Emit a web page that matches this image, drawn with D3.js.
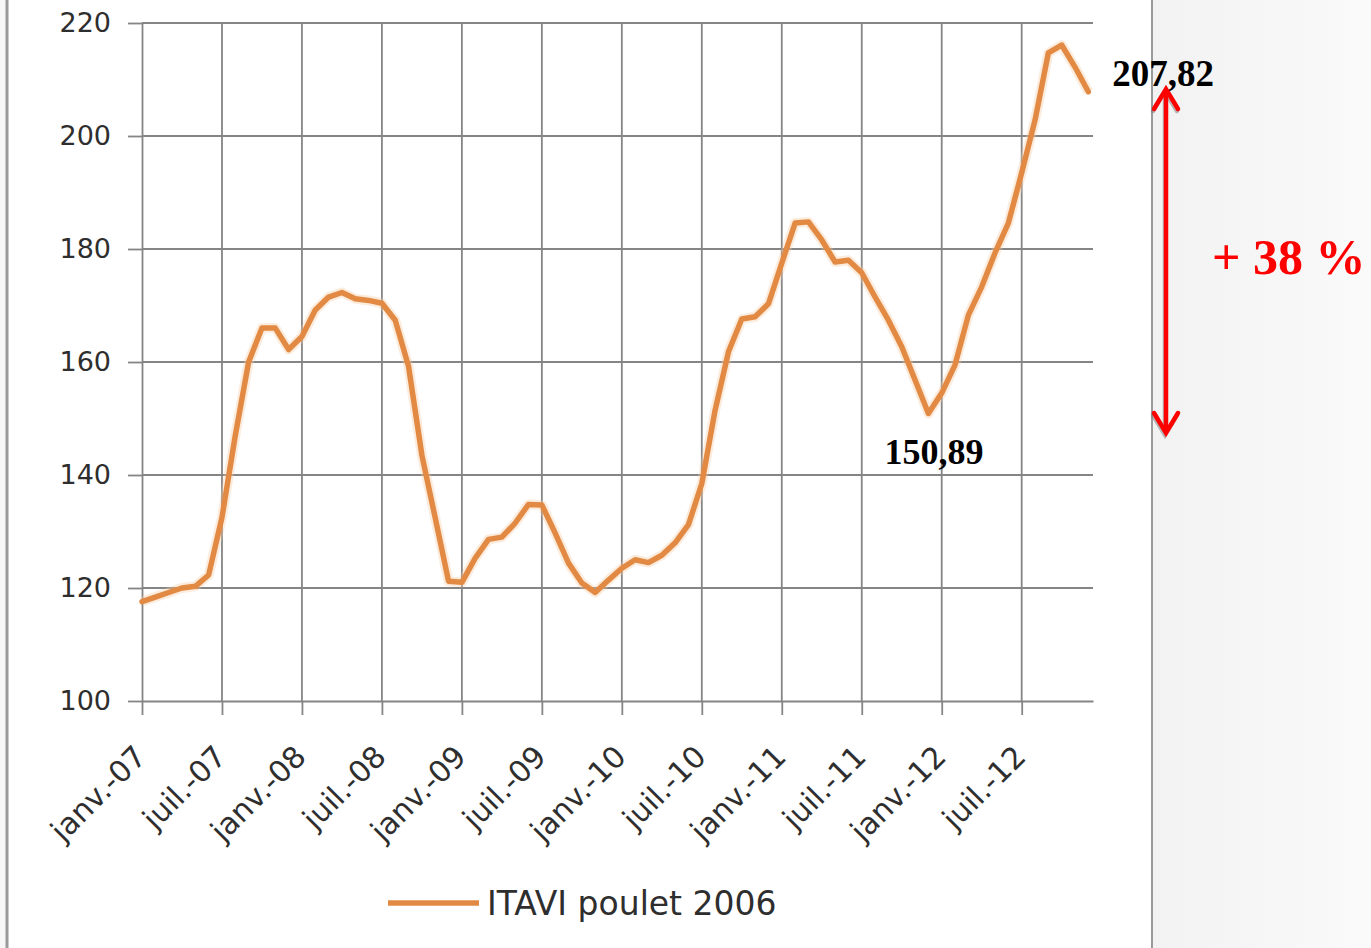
<!DOCTYPE html>
<html><head><meta charset="utf-8">
<script src="https://cdn.jsdelivr.net/npm/d3@7"></script>
<style>html,body{margin:0;padding:0;background:#fff;}svg{display:block;}</style>
</head><body>
<svg id="chart" width="1371" height="948"></svg>
<script>
// ---- data ----
const seriesName = "ITAVI poulet 2006";
const months = d3.range(72); // janv.-07 .. déc.-12
const values = [
  117.6,118.4,119.2,120.0,120.3,122.3,132.5,147.0,160.0,166.0,166.0,162.2,
  164.5,169.2,171.5,172.3,171.2,170.9,170.4,167.4,159.2,143.5,132.4,121.2,
  121.0,125.3,128.6,129.0,131.5,134.8,134.7,129.7,124.4,120.9,119.2,121.4,
  123.5,125.0,124.5,125.8,128.0,131.2,138.5,151.5,161.8,167.6,168.0,170.3,
  177.5,184.6,184.8,181.6,177.7,178.0,175.8,171.5,167.4,162.7,156.8,150.89,
  154.5,159.5,168.3,173.3,179.3,184.6,193.5,202.8,214.7,216.1,212.2,207.82
];
const xTickMonths = [0,6,12,18,24,30,36,42,48,54,60,66];
const xTickLabels = ["janv.-07","juil.-07","janv.-08","juil.-08","janv.-09","juil.-09",
                     "janv.-10","juil.-10","janv.-11","juil.-11","janv.-12","juil.-12"];
const yTicks = [100,120,140,160,180,200,220];
const labelMin = {month:59, text:"150,89"};
const labelEnd = {month:71, text:"207,82"};
const changeText = "+ 38 %";

// ---- drawing ----
const svg = d3.select("#chart");
const W = 1371, H = 948;

// background panels
const defs = svg.append("defs");
const grad = defs.append("linearGradient").attr("id","bg").attr("x1","0").attr("x2","1").attr("y1","0").attr("y2","0");
grad.append("stop").attr("offset","0").attr("stop-color","#f2f2f2");
grad.append("stop").attr("offset","1").attr("stop-color","#fafafa");
svg.append("rect").attr("x",1153).attr("y",0).attr("width",W-1153).attr("height",H).attr("fill","url(#bg)");
svg.append("rect").attr("x",0).attr("y",0).attr("width",6).attr("height",H).attr("fill","#f7f7f7");
svg.append("line").attr("x1",7).attr("x2",7).attr("y1",0).attr("y2",H).attr("stroke","#9a9a9a").attr("stroke-width",3);
svg.append("line").attr("x1",1152).attr("x2",1152).attr("y1",0).attr("y2",H).attr("stroke","#9a9a9a").attr("stroke-width",2);

const x = d3.scaleLinear().domain([0,71.35]).range([142,1093]);
const y = d3.scaleLinear().domain([100,220]).range([701,23]);

const gridColor = "#858585";
// horizontal grid
svg.append("g").selectAll("line").data(yTicks.filter(v=>v>100)).join("line")
  .attr("x1",x(0)).attr("x2",x(71.35)).attr("y1",d=>y(d)).attr("y2",d=>y(d))
  .attr("stroke",gridColor).attr("stroke-width",1.8);
// vertical grid
svg.append("g").selectAll("line").data(xTickMonths.filter(m=>m>0)).join("line")
  .attr("x1",d=>x(d)).attr("x2",d=>x(d)).attr("y1",y(220)).attr("y2",y(100))
  .attr("stroke",gridColor).attr("stroke-width",1.8);

const textFont = "'DejaVu Sans', sans-serif";
// y axis
const yAxis = svg.append("g").attr("transform",`translate(${x(0)},0)`)
  .call(d3.axisLeft(y).tickValues(yTicks).tickSize(14).tickPadding(17).tickSizeOuter(0));
yAxis.select(".domain").attr("stroke",gridColor).attr("stroke-width",1.8);
yAxis.selectAll(".tick line").attr("stroke",gridColor).attr("stroke-width",1.8);
yAxis.selectAll(".tick text").attr("font-family",textFont).attr("font-size",27).attr("fill","#2e2e2e");

// x axis
const xAxis = svg.append("g").attr("transform",`translate(0,${y(100)})`)
  .call(d3.axisBottom(x).tickValues(xTickMonths).tickFormat((d,i)=>xTickLabels[i]).tickSize(14).tickSizeOuter(0));
xAxis.select(".domain").attr("stroke",gridColor).attr("stroke-width",1.8);
xAxis.selectAll(".tick line").attr("stroke",gridColor).attr("stroke-width",1.8);
xAxis.selectAll(".tick text")
  .attr("font-family",textFont).attr("font-size",30).attr("fill","#2e2e2e")
  .attr("text-anchor","end").attr("dy","0.35em").attr("y",0)
  .attr("transform","translate(-2,50) rotate(-45)");

// line
const lineColor = "#e28a43";
const line = d3.line().x((d,i)=>x(months[i])).y(d=>y(d)).curve(d3.curveLinear);
svg.append("path").datum(values).attr("d",line).attr("fill","none")
  .attr("stroke","#f6c9a0").attr("stroke-width",10).attr("stroke-opacity",0.35).attr("stroke-linejoin","round");
svg.append("path").datum(values).attr("d",line).attr("fill","none")
  .attr("stroke",lineColor).attr("stroke-width",5.5).attr("stroke-linejoin","round").attr("stroke-linecap","round");

// legend
svg.append("line").attr("x1",388).attr("x2",479).attr("y1",903).attr("y2",903)
  .attr("stroke",lineColor).attr("stroke-width",5.5);
svg.append("text").attr("x",487).attr("y",915).attr("font-family",textFont).attr("font-size",33)
  .attr("fill","#2e2e2e").text(seriesName);

// annotations
const serif = "'Liberation Serif', 'Times New Roman', serif";
svg.append("text").attr("x",x(labelMin.month)-44).attr("y",464).attr("font-family",serif)
  .attr("font-weight","bold").attr("font-size",36).attr("fill","#000").text(labelMin.text);
svg.append("text").attr("x",x(labelEnd.month)+24).attr("y",86).attr("font-family",serif)
  .attr("font-weight","bold").attr("font-size",37).attr("fill","#000").text(labelEnd.text);

// red double arrow
const ax = 1166, ayTop = 89, ayBot = 433;
const arrow = svg.append("g");
function drawArrow(g, dx, dy, color, op){
  g.append("line").attr("x1",ax+dx).attr("x2",ax+dx).attr("y1",ayTop+4+dy).attr("y2",ayBot-4+dy)
    .attr("stroke",color).attr("stroke-width",4.5).attr("stroke-opacity",op);
  g.append("path").attr("d",`M${ax-12+dx},${ayTop+20+dy} L${ax+dx},${ayTop+dy} L${ax+12+dx},${ayTop+20+dy}`)
    .attr("fill","none").attr("stroke",color).attr("stroke-width",4.5).attr("stroke-linecap","round").attr("stroke-linejoin","miter").attr("stroke-opacity",op);
  g.append("path").attr("d",`M${ax-12+dx},${ayBot-20+dy} L${ax+dx},${ayBot+dy} L${ax+12+dx},${ayBot-20+dy}`)
    .attr("fill","none").attr("stroke",color).attr("stroke-width",4.5).attr("stroke-linecap","round").attr("stroke-linejoin","miter").attr("stroke-opacity",op);
}
drawArrow(arrow,-1,2,"#777",0.5);
drawArrow(arrow,0,0,"#ff0000",1);

svg.append("text").attr("x",1212).attr("y",274).attr("font-family",serif)
  .attr("font-weight","bold").attr("font-size",50).attr("fill","#ff0000").text(changeText);
</script>
</body></html>
